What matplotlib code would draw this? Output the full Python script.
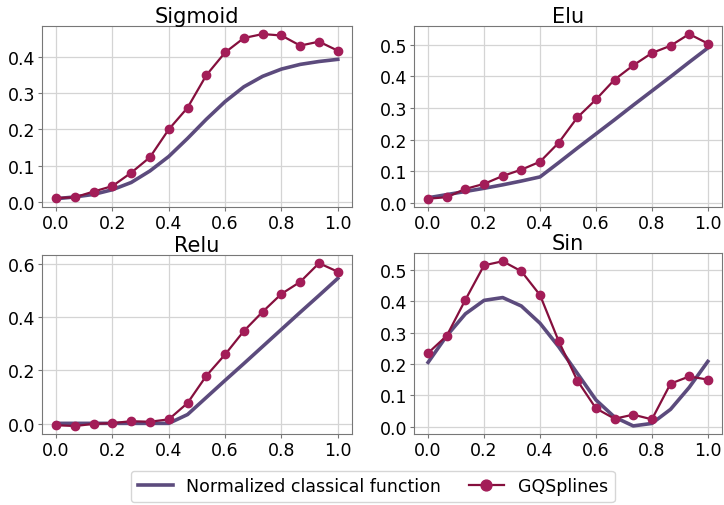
import numpy as np
import matplotlib.pyplot as plt

x = np.linspace(0, 1, 16)

sigmoid_classical = [0.008, 0.013, 0.020, 0.033, 0.053, 0.085, 0.125, 0.175, 0.228, 0.277,
                     0.318, 0.347, 0.367, 0.380, 0.388, 0.394]
sigmoid_gq = [0.010, 0.012, 0.028, 0.043, 0.080, 0.123, 0.200, 0.260, 0.350, 0.413,
              0.453, 0.464, 0.460, 0.432, 0.443, 0.418]

elu_classical = [0.016, 0.026, 0.036, 0.046, 0.057, 0.069, 0.082, 0.127, 0.173, 0.218,
                 0.263, 0.309, 0.354, 0.399, 0.445, 0.490]
elu_gq = [0.013, 0.018, 0.044, 0.060, 0.085, 0.105, 0.130, 0.190, 0.270, 0.327,
          0.390, 0.435, 0.474, 0.497, 0.534, 0.504]

relu_classical = [0.002, 0.002, 0.002, 0.002, 0.002, 0.002, 0.002, 0.035, 0.099, 0.163,
                  0.226, 0.290, 0.354, 0.418, 0.481, 0.545]
relu_gq = [-0.005, -0.008, 0.000, 0.003, 0.010, 0.008, 0.017, 0.078, 0.180, 0.260,
           0.348, 0.420, 0.487, 0.532, 0.602, 0.570]

sin_classical = [0.205, 0.290, 0.360, 0.403, 0.412, 0.385, 0.330, 0.255, 0.170, 0.085,
                 0.030, 0.002, 0.010, 0.055, 0.125, 0.208]
sin_gq = [0.235, 0.290, 0.405, 0.515, 0.528, 0.496, 0.420, 0.273, 0.147, 0.058,
          0.025, 0.038, 0.023, 0.137, 0.160, 0.150]

titles = ['Sigmoid', 'Elu', 'Relu', 'Sin']
classical = [sigmoid_classical, elu_classical, relu_classical, sin_classical]
gqsplines = [sigmoid_gq, elu_gq, relu_gq, sin_gq]
ytick_steps = [0.1, 0.1, 0.2, 0.1]

classical_color = '#5c4b7d'
gq_color = '#850f3d'
marker_color = '#a31d58'

fig = plt.figure(figsize=(7.24, 5.06), dpi=100)
positions = [
    [0.058, 0.589, 0.428, 0.358],
    [0.572, 0.589, 0.425, 0.358],
    [0.058, 0.140, 0.428, 0.354],
    [0.572, 0.140, 0.425, 0.358],
]

for pos, title, yc, yg, step in zip(positions, titles, classical, gqsplines, ytick_steps):
    ax = fig.add_axes(pos)
    ax.grid(True, color='#d4d4d4', linewidth=0.9)
    ax.set_axisbelow(True)
    l1, = ax.plot(x, yc, color=classical_color, linewidth=2.6,
                  label='Normalized classical function')
    l2, = ax.plot(x, yg, color=gq_color, linewidth=1.6, marker='o', markersize=6,
                  markerfacecolor=marker_color, markeredgecolor=marker_color,
                  label='GQSplines')
    ax.set_title(title, fontsize=15, pad=3)
    ax.yaxis.set_major_locator(plt.MultipleLocator(step))
    ax.set_xticks([0.0, 0.2, 0.4, 0.6, 0.8, 1.0])
    ax.tick_params(labelsize=12.5, length=3, color='#777777', pad=2)
    for s in ax.spines.values():
        s.set_color('#777777')

fig.legend(handles=[l1, l2], loc='lower center', ncol=2, fontsize=12.5,
           bbox_to_anchor=(0.515, -0.012), handlelength=2.0, columnspacing=1.6,
           markerscale=1.3, edgecolor='#cccccc')

fig.savefig('out.png', dpi=100)
